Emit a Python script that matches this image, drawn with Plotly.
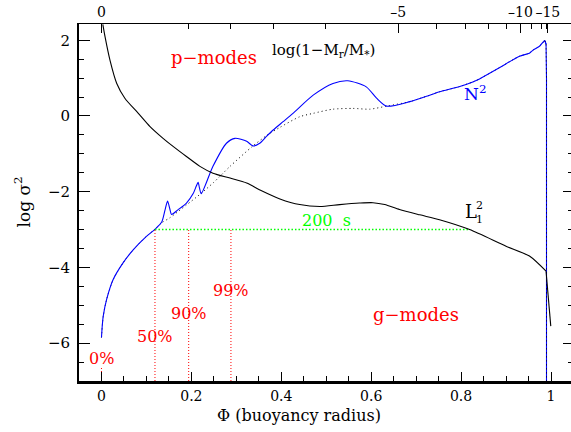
import plotly.graph_objects as go

# ---------------- data ----------------
# Lamb frequency L_1^2 (black solid)
phi_L = [0.003, 0.008, 0.019, 0.034, 0.052, 0.082, 0.108, 0.137, 0.160, 0.189,
         0.219, 0.248, 0.286, 0.323, 0.355, 0.397, 0.441, 0.486, 0.530, 0.574,
         0.604, 0.630, 0.663, 0.708, 0.752, 0.819, 0.900, 0.952, 0.989, 0.9995]
logL = [2.42, 2.09, 1.47, 0.86, 0.47, 0.07, -0.28, -0.59, -0.81, -1.07,
        -1.33, -1.51, -1.64, -1.77, -1.97, -2.19, -2.34, -2.39, -2.34, -2.30,
        -2.29, -2.34, -2.47, -2.61, -2.74, -3.00, -3.44, -3.70, -4.10, -5.55]

# Brunt-Vaisala frequency N^2 (blue solid)
phi_N = [0.000, 0.002, 0.004, 0.0116, 0.026, 0.048, 0.071, 0.100, 0.120, 0.134,
         0.141, 0.147, 0.152, 0.156, 0.170, 0.189, 0.204, 0.211, 0.215, 0.218,
         0.222, 0.248, 0.278, 0.297, 0.323, 0.337, 0.352, 0.367, 0.382, 0.404,
         0.426, 0.471, 0.515, 0.548, 0.589, 0.612, 0.634, 0.686, 0.730, 0.752,
         0.797, 0.826, 0.841, 0.886, 0.930, 0.952, 0.960, 0.975, 0.986, 0.989,
         0.990, 0.990]
logN = [-5.85, -5.50, -5.28, -4.84, -4.32, -3.88, -3.53, -3.18, -2.98, -2.80,
        -2.50, -2.25, -2.45, -2.60, -2.48, -2.30, -2.05, -1.85, -1.75, -1.90,
        -2.05, -1.33, -0.72, -0.59, -0.67, -0.79, -0.72, -0.54, -0.37, -0.15,
        0.07, 0.55, 0.86, 0.93, 0.77, 0.47, 0.26, 0.38, 0.55, 0.64,
        0.78, 0.90, 0.98, 1.28, 1.58, 1.66, 1.74, 1.85, 1.99, 1.90,
        1.00, -8.00]

# N^2 without the composition term (black dotted), where it departs from N^2
phi_Ns = [0.000, 0.004, 0.0116, 0.026, 0.048, 0.071, 0.100, 0.120, 0.134, 0.152,
          0.189, 0.219, 0.250, 0.286, 0.337, 0.367, 0.397, 0.441, 0.471, 0.515,
          0.560, 0.597, 0.634]
logNs = [-5.85, -5.28, -4.84, -4.32, -3.88, -3.53, -3.18, -2.98, -2.82, -2.69,
         -2.35, -2.07, -1.75, -1.33, -0.79, -0.52, -0.30, -0.02, 0.07, 0.18,
         0.20, 0.18, 0.26]

# mass-fraction markers (red dotted verticals)
pct_phi = [0.0, 0.119, 0.194, 0.288]
pct_top = [-6.65, -3.0, -3.0, -3.0]
pct_labels = ["0%", "50%", "90%", "99%"]
pct_label_y = [-6.41, -5.83, -5.22, -4.62]

# 200 s period level (green dotted)
period_level = -3.0
period_phi = [0.119, 0.819]

# top axis: log(1 - Mr/M*) positions on the Phi scale
top_major_phi = [0.0, 0.660, 0.932, 0.993]
top_major_text = ["0", "\u20135", "\u201310", "\u201315"]
top_minor_phi = [0.193, 0.288, 0.383, 0.499, 0.745, 0.809, 0.862, 0.900,
                 0.957, 0.978, 0.989]

X_RANGE = [-0.05, 1.0445]
Y_RANGE = [-7.0, 2.43]
FONT = "DejaVu Serif"

# ---------------- figure ----------------
fig = go.Figure()

def curve(xs, ys, color, width, dash=None, shape="spline", axes=("x", "y")):
    fig.add_trace(go.Scatter(x=xs, y=ys, mode="lines", line_shape=shape,
                             line=dict(color=color, width=width, dash=dash,
                                       smoothing=0.7 if shape == "spline" else None),
                             xaxis=axes[0], yaxis=axes[1],
                             hoverinfo="skip", showlegend=False))

# dotted N^2 (smooth) -- follows the blue curve after it rejoins
n_peak = 49  # index of the last point before the surface drop
d_x = phi_Ns + [p for p in phi_N[:n_peak] if p > 0.634]
d_y = logNs + [v for p, v in zip(phi_N[:n_peak], logN[:n_peak]) if p > 0.634]
curve(d_x, d_y, "black", 1, dash="1px,3px")

# N^2 (spline body + straight surface drop)
curve(phi_N[:n_peak + 1], logN[:n_peak + 1], "#0000ff", 1.1)
curve(phi_N[n_peak - 1:], logN[n_peak - 1:], "#0000ff", 1.1, shape="linear")
curve(d_x[-1:] + phi_N[n_peak:], d_y[-1:] + logN[n_peak:], "black", 1,
      dash="1px,3px", shape="linear")

# L_1^2 (spline body + straight final drop)
curve(phi_L[:-1], logL[:-1], "black", 1.1, axes=("x2", "y2"))
curve(phi_L[-2:], logL[-2:], "black", 1.1, shape="linear")

for p, top in zip(pct_phi, pct_top):
    curve([p, p], [Y_RANGE[0], top], "#ff0000", 1, dash="1px,2px", shape="linear")

curve(period_phi, [period_level, period_level], "#00ff00", 1.4, dash="1.5px,2px",
      shape="linear")

# ---------------- annotations ----------------
def txt(x, y, s, color="black", size=16, **kw):
    fig.add_annotation(x=x, y=y, text=s, showarrow=False,
                       font=dict(family=FONT, size=size, color=color),
                       xanchor="center", yanchor="middle", **kw)

txt(0.25, 1.55, "p\u2212modes", "#ff0000", 18)
txt(0.493, 1.74, "log(1\u2212M<sub>r</sub>/M<sub>*</sub>)", "black", 15)
txt(0.832, 0.60, "N<sup>2</sup>", "#0000ff", 17)
txt(0.822, -2.53, "L", "black", 18)
txt(0.842, -2.55, "2<br>1", "black", 11)
txt(0.50, -2.77, "200  s", "#00ff00", 16)
txt(0.70, -5.25, "g\u2212modes", "#ff0000", 18)
for p, lab, ly in zip(pct_phi, pct_labels, pct_label_y):
    txt(p, ly, lab, "#ff0000", 16)

# axis titles
fig.add_annotation(xref="paper", yref="paper", x=(299 - 79) / 492, y=(381 - 415) / 357,
                   text="\u03a6 (buoyancy radius)", showarrow=False,
                   font=dict(family=FONT, size=16, color="black"),
                   xanchor="center", yanchor="middle")
fig.add_annotation(xref="paper", yref="paper", x=(22 - 79) / 492, y=0.5,
                   text="log \u03c3<sup>2</sup>", showarrow=False, textangle=-90,
                   font=dict(family=FONT, size=17, color="black"),
                   xanchor="center", yanchor="middle")

# ---------------- layout ----------------
fig.update_layout(
    width=571, height=432,
    margin=dict(l=79, r=0, t=24, b=51, autoexpand=False),
    paper_bgcolor="white", plot_bgcolor="white",
    font=dict(family=FONT, size=15, color="black"),
    showlegend=False,
    xaxis=dict(range=X_RANGE, showgrid=False, zeroline=False, automargin=False,
               showline=True, linecolor="black", linewidth=2.5,
               ticks="inside", ticklen=9, tickwidth=1.2, tickcolor="black",
               tick0=0, dtick=0.2, tickformat="~g", tickangle=0,
               minor=dict(ticks="inside", ticklen=5, dtick=0.05, tick0=0,
                          tickcolor="black", tickwidth=1, showgrid=False),
               tickfont=dict(family=FONT, size=14)),
    yaxis=dict(range=Y_RANGE, showgrid=False, zeroline=False, automargin=False,
               showline=True, linecolor="black", linewidth=2,
               ticks="inside", ticklen=11, tickwidth=1.2, tickcolor="black",
               tick0=0, dtick=2, ticklabelstandoff=4,
               minor=dict(ticks="inside", ticklen=5, dtick=0.5, tick0=0,
                          tickcolor="black", tickwidth=1, showgrid=False),
               tickfont=dict(family=FONT, size=15)),
    xaxis2=dict(range=X_RANGE, overlaying="x", side="top", anchor="y",
                showgrid=False, zeroline=False, automargin=False,
                showline=True, linecolor="black", linewidth=1.2,
                ticks="inside", ticklen=9, tickwidth=1.2, tickcolor="black",
                tickmode="array", tickvals=top_major_phi, ticktext=top_major_text,
                tickangle=0,
                minor=dict(ticks="inside", ticklen=5, tickvals=top_minor_phi,
                           tickcolor="black", tickwidth=1, showgrid=False),
                tickfont=dict(family=FONT, size=14)),
    yaxis2=dict(range=Y_RANGE, overlaying="y", side="right", anchor="x",
                showgrid=False, zeroline=False, showline=False, automargin=False,
                showticklabels=False,
                ticks="inside", ticklen=8, tickwidth=1.2, tickcolor="black",
                tick0=0, dtick=2,
                minor=dict(ticks="inside", ticklen=3, dtick=0.5, tick0=0,
                           tickcolor="black", tickwidth=1, showgrid=False)),
)

fig.write_html("out.html")
